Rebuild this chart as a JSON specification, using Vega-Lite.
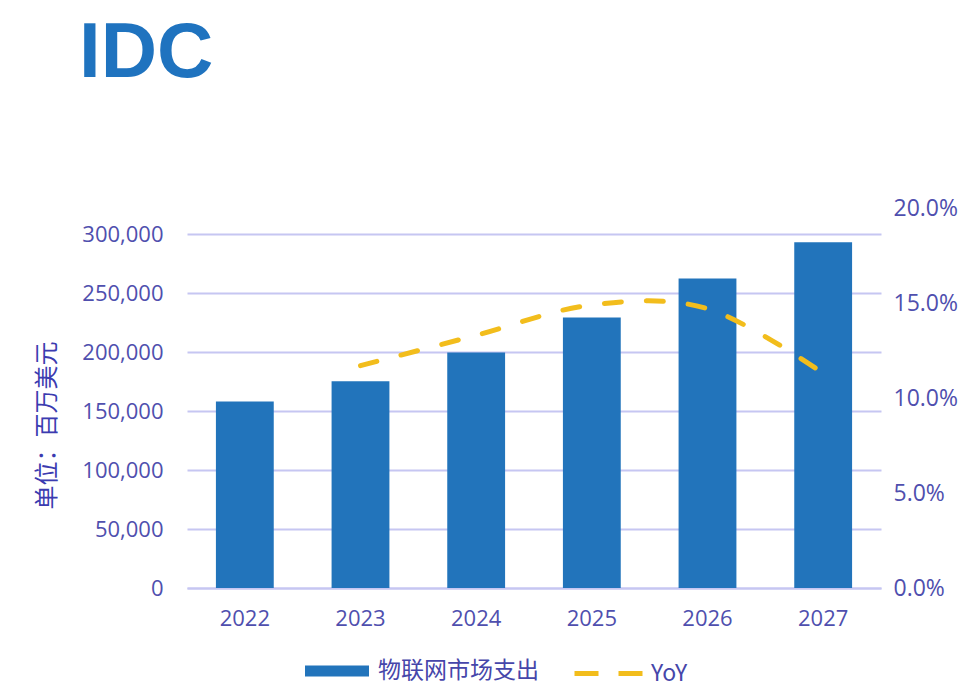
{
  "$schema": "https://vega.github.io/schema/vega-lite/v6.json",
  "width": 694,
  "height": 380,
  "autosize": {"type": "none"},
  "padding": {"left": 187, "top": 208, "right": 93, "bottom": 100},
  "background": "white",
  "title": {
    "text": "IDC",
    "anchor": "start",
    "frame": "group",
    "font": "Liberation Sans",
    "fontWeight": "bold",
    "fontSize": 78,
    "color": "#1f73bf",
    "dx": -108,
    "offset": 104
  },
  "config": {"view": {"stroke": null}},
  "data": {
    "values": [
      {"year": "2022", "spend": 158100, "yoy": null},
      {"year": "2023", "spend": 175300, "yoy": 0.117},
      {"year": "2024", "spend": 199600, "yoy": 0.133},
      {"year": "2025", "spend": 229200, "yoy": 0.149},
      {"year": "2026", "spend": 262300, "yoy": 0.147},
      {"year": "2027", "spend": 293100, "yoy": 0.113}
    ]
  },
  "encoding": {
    "x": {
      "field": "year",
      "type": "nominal",
      "scale": {"paddingInner": 0.5, "paddingOuter": 0.25},
      "axis": {
        "title": null,
        "labelAngle": 0,
        "labelFont": "Open Sans",
        "labelFontSize": 22,
        "labelColor": "#4f4fae",
        "labelPadding": 20,
        "ticks": false,
        "domain": true,
        "domainColor": "#c6c6f2",
        "domainWidth": 2
      }
    }
  },
  "layer": [
    {
      "mark": {"type": "bar", "color": "#2274bb"},
      "encoding": {
        "y": {
          "field": "spend",
          "type": "quantitative",
          "scale": {"domain": [0, 322034], "nice": false},
          "axis": {
            "values": [0, 50000, 100000, 150000, 200000, 250000, 300000],
            "format": ",.0f",
            "labelFont": "Open Sans",
            "labelFontSize": 22,
            "labelColor": "#4f4fae",
            "labelPadding": 24,
            "labelOverlap": false,
            "ticks": false,
            "domain": false,
            "grid": true,
            "gridColor": "#c6c6f2",
            "gridWidth": 2,
            "title": "单位：百万美元",
            "titleFont": "Noto Sans CJK SC",
            "titleFontSize": 24,
            "titleFontWeight": "normal",
            "titleColor": "#3b3bb0",
            "titleAngle": -90,
            "titleAlign": "center",
            "titleBaseline": "middle",
            "titleX": -140,
            "titleY": 217
          }
        },
        "fill": {
          "datum": "物联网市场支出",
          "scale": {"range": ["#2274bb"]},
          "legend": {
            "orient": "none",
            "legendX": 118,
            "legendY": 431,
            "title": null,
            "padding": 0,
            "symbolType": "M-1,-0.17H1V0.17H-1Z",
            "symbolSize": 4096,
            "symbolStrokeWidth": 0,
            "labelFont": "Noto Sans CJK SC",
            "labelFontSize": 23,
            "labelLimit": 400,
            "labelColor": "#4646aa",
            "labelOffset": 9
          }
        }
      }
    },
    {
      "transform": [{"filter": "datum.yoy != null"}],
      "mark": {
        "type": "line",
        "interpolate": "cardinal",
        "strokeWidth": 5,
        "strokeDash": [17, 25],
        "strokeCap": "round",
        "color": "#f2bd1c"
      },
      "encoding": {
        "y": {
          "field": "yoy",
          "type": "quantitative",
          "scale": {"domain": [0, 0.2], "nice": false},
          "axis": {
            "orient": "right",
            "values": [0, 0.05, 0.1, 0.15, 0.2],
            "format": ".1%",
            "labelFont": "Open Sans",
            "labelFontSize": 23,
            "labelColor": "#4f4fae",
            "labelPadding": 12,
            "labelOverlap": false,
            "ticks": false,
            "domain": false,
            "grid": false,
            "title": null
          }
        },
        "stroke": {
          "datum": "YoY",
          "scale": {"range": ["#f2bd1c"]},
          "legend": {
            "orient": "none",
            "legendX": 385,
            "legendY": 429,
            "title": null,
            "padding": 0,
            "symbolType": "stroke",
            "symbolSize": 4624,
            "symbolStrokeWidth": 5,
            "symbolDash": [24, 20],
            "labelFont": "Noto Sans CJK SC",
            "labelFontSize": 23,
            "labelLimit": 400,
            "labelColor": "#4646aa",
            "labelOffset": 6
          }
        }
      }
    }
  ],
  "resolve": {"scale": {"y": "independent"}}
}
